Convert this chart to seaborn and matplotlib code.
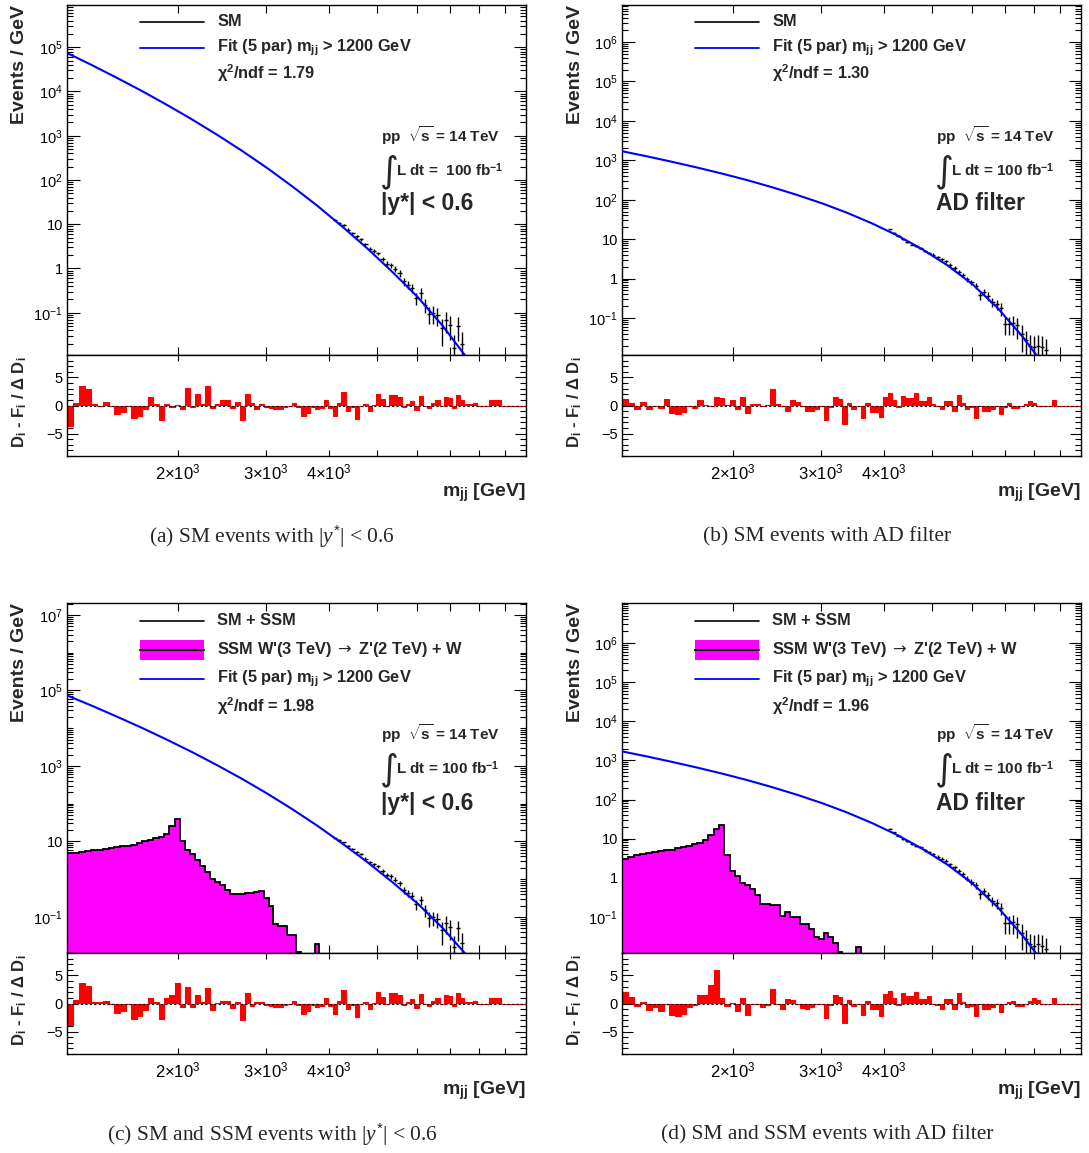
import numpy as np
import matplotlib
matplotlib.use("Agg")
import matplotlib.pyplot as plt
import seaborn as sns
from matplotlib.ticker import FixedLocator, FixedFormatter, NullFormatter, NullLocator
from matplotlib.patches import Rectangle

sns.set_theme(style="ticks")
plt.rcParams["font.family"] = ["Liberation Sans", "DejaVu Sans"]
plt.rcParams["mathtext.fontset"] = "custom"
plt.rcParams["mathtext.rm"] = "Liberation Sans"
plt.rcParams["mathtext.bf"] = "Liberation Sans:bold"
plt.rcParams["mathtext.it"] = "Liberation Serif:italic"
plt.rcParams["mathtext.sf"] = "Liberation Sans"
plt.rcParams["mathtext.cal"] = "DejaVu Sans"

# ---------------- data ----------------
# m_jj bin edges [GeV]
bin_edges = [1200, 1234, 1269, 1305, 1341, 1378, 1416, 1454, 1493, 1533, 1573, 1614, 1656, 1698,
             1741, 1785, 1830, 1875, 1921, 1968, 2016, 2065, 2114, 2164, 2215, 2267, 2320, 2374,
             2429, 2485, 2542, 2600, 2659, 2719, 2780, 2842, 2905, 2969, 3034, 3100, 3167, 3235,
             3305, 3376, 3448, 3521, 3596, 3672, 3749, 3827, 3907, 3988, 4070, 4154, 4239, 4326,
             4414, 4504, 4595, 4688, 4782, 4878, 4975, 5074, 5175, 5277, 5381, 5487, 5595, 5705,
             5817, 5931, 6047, 6165, 6285, 6407, 6531, 6658, 6787, 6918, 7052, 7188, 7326, 7467,
             7610, 7756, 7904, 8055, 8208, 8364, 8523, 8685, 8850, 9019, 9191, 9366, 9544, 9726, 9911]

# fit curves (Events/GeV)
fit_mass = [1200, 1346, 1510, 1695, 1902, 2134, 2394, 2686, 3014, 3381, 3795, 4257, 4777, 5360,
            6014, 6748, 7571, 8495]
fit_val_a = [7.41e4, 3.94e4, 2.03e4, 1.02e4, 4.95e3, 2.33e3, 1.05e3, 454, 186, 72.0, 26.2, 8.86,
             2.84, 0.837, 0.230, 0.0516, 0.00917, 0.0013]
fit_val_b = [1.70e3, 1259, 916, 656, 459, 314, 207, 132, 80.7, 46.5, 24.9, 12.4, 5.52, 2.17,
             0.719, 0.181, 0.0340, 0.00481]

# SM pseudo-data: values for consecutive bins starting at a given bin index
sm_first_a = 52
sm_val_a = [12.5, 10.8, 9.4, 7.6, 6.2, 5.3, 4.6, 3.5, 2.8, 2.5, 2.2, 1.66, 1.28, 1.19, 0.98, 0.79,
            0.51, 0.43, 0.36, 0.216, 0.28, 0.152, 0.095, 0.098, 0.090, 0.045, 0.069, 0.054, 0.016,
            0.051, 0.020]
sm_relerr_a = [0.04, 0.045, 0.05, 0.055, 0.06, 0.065, 0.07, 0.08, 0.09, 0.1, 0.1, 0.12, 0.13, 0.14,
               0.15, 0.17, 0.2, 0.22, 0.24, 0.3, 0.27, 0.35, 0.42, 0.42, 0.45, 0.6, 0.5, 0.55, 0.95,
               0.55, 0.85]
sm_first_b = 52
sm_val_b = [17.7, 14.5, 12.0, 9.8, 8.5, 7.3, 6.6, 6.0, 5.0, 4.5, 4.05, 3.5, 3.1, 2.73, 2.2, 1.84,
            1.5, 1.24, 0.96, 0.8, 0.65, 0.38, 0.45, 0.36, 0.257, 0.224, 0.174, 0.072, 0.072, 0.075,
            0.065, 0.04, 0.027, 0.020, 0.018, 0.02, 0.018, 0.015]
sm_relerr_b = [0.03, 0.035, 0.04, 0.045, 0.05, 0.05, 0.055, 0.06, 0.065, 0.07, 0.075, 0.08, 0.085,
               0.09, 0.1, 0.11, 0.12, 0.13, 0.15, 0.16, 0.18, 0.23, 0.21, 0.24, 0.28, 0.3, 0.34, 0.5,
               0.5, 0.5, 0.55, 0.65, 0.75, 0.85, 0.9, 0.85, 0.9, 0.95]

# SSM signal (Events/GeV) per bin
ssm_c = [4.9, 5.1, 5.4, 5.6, 5.9, 6.1, 6.5, 6.8, 7.1, 7.4, 7.8, 8.3, 9.3, 10, 11, 12, 13, 15.6, 25,
         40, 10, 6, 4.6, 3.3, 2.2, 1.55, 1.0, 0.85, 0.72, 0.53, 0.4, 0.4, 0.4, 0.44, 0.44, 0.45, 0.5,
         0.31, 0.2, 0.064, 0.058, 0.058, 0.034, 0.034, 0.012, 0, 0, 0, 0.019] + [0] * 49
ssm_d = [3.1, 3.4, 3.9, 4.1, 4.4, 4.6, 4.8, 5.0, 5.2, 5.8, 6.2, 6.5, 7.5, 7.9, 9.0, 12.6, 18, 22,
         3.9, 1.47, 1.1, 0.75, 0.67, 0.53, 0.36, 0.22, 0.21, 0.2, 0.2, 0.105, 0.133, 0.1, 0.1,
         0.067, 0.067, 0.05, 0.031, 0.028, 0.04, 0.031, 0.021, 0.013, 0, 0, 0, 0.017] + [0] * 52

# significance residuals (D - F)/dD per bin
resid_a = [-3.6, 0.5, 3.5, 2.9, 0.2, 0.0, 0.6, 0.0, -1.5, -1.1, -0.1, -2.3, -1.9, -0.7, 1.5, 0.3,
           -2.6, 0.3, -0.3, 0.1, -0.6, 3.2, -0.3, 2.1, 0.3, 3.4, -0.5, 0.3, 0.9, 0.9, -0.5, 0.6,
           -2.6, 2.1, 0.5, -0.6, 0.2, -0.2, -0.4, -0.7, -0.7, -0.3,
           0.0, 0.5, -0.3, -1.8, -1.4, -0.2, -0.7, -0.4, 1.0, -0.5, -1.8, 0.5, 2.4, -1.0, -0.3,
           -2.4, 0.0, 0.2, -1.0, 0.1, 2.0, 1.2, 0.0, 1.8, 1.8, 1.5, -0.2, 0.3, 0.8, -0.8, 1.7,
           -0.1, -0.5, 0.4, 1.0, 0.0, 1.5, 1.4, -0.4, 1.9, 0.9, 0.2, 0.2, 0.5,
           0.0, 0.0, 0.0, 0.9, 0.9, 0.9, 0, 0, 0, 0, 0, 0]
resid_c = [-3.9, 0.6, 3.6, 3.1, 0.3, 0.2, 0.5, 0.0, -1.7, -1.4, -0.1, -2.8, -2.3, -1.2, 1.0, 0.2,
           -2.7, 0.9, 1.5, 3.6, -0.6, 2.9, -0.6, 1.5, 0.2, 2.7, -1.1, 0.1, 0.4, 0.4, -0.8, 0.3,
           -2.9, 1.9, -0.5, 0.3] + resid_a[36:]
resid_b = [1.1, 0.5, -0.6, 0.6, -0.6, 0.0, -0.5, 1.1, -1.3, -1.6, -1.2, -0.1, -0.5, 0.9, 0.1, -0.1,
           1.5, 1.4, 0.1, 1.0, -0.6, 1.6, -1.4, 0.3, 0.3, -0.1, 0.1, 3.0, 0.3, 0.0, -0.9, 0.9, 0.6,
           0.0, -0.9, -1.0, -0.6, 0.0, -2.6, -0.2, 1.5, 1.2, -3.3,
           0.4, -0.6, 0.0, -2.2, 0.4, -1.1, -1.1, -2.1, 1.5, 2.2, 1.0, -0.3, 1.7, 1.3, 1.4, 2.2,
           0.8, 0.8, 1.5, 0.2, 0.0, -0.7, 0.8, 0.8, -0.9, 1.9, 0.5, -0.6, -0.3, -2.3, -0.1, -1.0,
           -0.9, -0.7, -0.1, -1.6, -0.3, 0.4, -0.5, -0.5, -0.1, 0.3, 0.8, 0.5, 0.0,
           0.0, 0.0, 0.0, 0.9, 0, 0, 0, 0, 0, 0]
resid_d = [2.1, 1.1, -0.5, 0.3, -1.1, -0.6, -1.3, 0.0, -2.1, -2.3, -1.8, -0.7, -0.2, 1.5, 1.6, 3.3,
           6.0, 1.0, -0.5, 0.1, -1.3, 1.0, -2.0, 0.0, -0.1, -0.6, -0.3, 2.6, -0.1, -1.0, 0.8, 0.6,
           0.0, -0.8, -1.0, -0.7, 0.0, 0.0, -2.5, -0.2, 1.5, 1.2, -3.4,
           0.6, -0.4, 0.0, -2.1, 0.5, -0.9, -0.9, -2.2, 1.7, 2.2, 1.0, -0.3, 1.8, 1.3, 1.3, 2.1,
           0.8, 0.8, 1.3, 0.0, -0.3, -0.9, 0.8, 0.8, -0.9, 1.8, 0.3, -0.6, -0.4, -2.3, -0.1, -1.0,
           -0.9, -0.7, 0.0, -1.6, -0.1, 0.3, 0.5, -0.5, -0.5, 0.0, 0.5, 0.9, 0.6,
           0.0, 0.0, 0.0, 0.9, 0, 0, 0, 0, 0, 0]

x_tick_vals = [2000, 3000, 4000, 5000, 6000, 7000, 8000, 9000]
x_tick_labels = [r"$\mathregular{2{\times}10^{3}}$", r"$\mathregular{3{\times}10^{3}}$",
                 r"$\mathregular{4{\times}10^{3}}$", "", "", "", "", ""]

captions = [r"(a) SM events with |$y^{*}$| < 0.6", "(b) SM events with AD filter",
            r"(c) SM and SSM events with |$y^{*}$| < 0.6", "(d) SM and SSM events with AD filter"]
chi2 = ["1.79", "1.30", "1.98", "1.96"]
selections = ["|y*| < 0.6", "AD filter", "|y*| < 0.6", "AD filter"]
lumi_txt = ["L dt =  100 fb$^{\\mathbf{-1}}$", "L dt = 100 fb$^{\\mathbf{-1}}$",
            "L dt = 100 fb$^{\\mathbf{-1}}$", "L dt = 100 fb$^{\\mathbf{-1}}$"]

# ---------------- layout ----------------
W, H = 1089, 1153
fig = plt.figure(figsize=(W / 100, H / 100), dpi=100)
fig.patch.set_facecolor("white")


def rect(x0, y0, x1, y1):
    return [x0 / W, 1 - y1 / H, (x1 - x0) / W, (y1 - y0) / H]


edges = np.array(bin_edges, dtype=float)
centers = np.sqrt(edges[:-1] * edges[1:])

panels = [
    dict(x0=67, y0=5, ylim=(0.0111, 9.0e5), fit=fit_val_a,
         sm=(sm_first_a, sm_val_a, sm_relerr_a), ssm=None, res=resid_a,
         ymaj=[0.1, 1, 10, 1e2, 1e3, 1e4, 1e5],
         ylab=[r"$\mathregular{10^{-1}}$", "1", "10", r"$\mathregular{10^{2}}$",
               r"$\mathregular{10^{3}}$", r"$\mathregular{10^{4}}$", r"$\mathregular{10^{5}}$"]),
    dict(x0=622, y0=5, ylim=(0.0115, 8.7e6), fit=fit_val_b,
         sm=(sm_first_b, sm_val_b, sm_relerr_b), ssm=None, res=resid_b,
         ymaj=[0.1, 1, 10, 1e2, 1e3, 1e4, 1e5, 1e6],
         ylab=[r"$\mathregular{10^{-1}}$", "1", "10", r"$\mathregular{10^{2}}$",
               r"$\mathregular{10^{3}}$", r"$\mathregular{10^{4}}$", r"$\mathregular{10^{5}}$",
               r"$\mathregular{10^{6}}$"]),
    dict(x0=67, y0=603, ylim=(0.0111, 2.08e7), fit=fit_val_a,
         sm=(sm_first_a, sm_val_a, sm_relerr_a), ssm=ssm_c, res=resid_c,
         ymaj=[0.1, 10, 1e3, 1e5, 1e7],
         ylab=[r"$\mathregular{10^{-1}}$", "10", r"$\mathregular{10^{3}}$",
               r"$\mathregular{10^{5}}$", r"$\mathregular{10^{7}}$"]),
    dict(x0=622, y0=603, ylim=(0.012, 1.05e7), fit=fit_val_b,
         sm=(sm_first_b, sm_val_b, sm_relerr_b), ssm=ssm_d, res=resid_d,
         ymaj=[0.1, 1, 10, 1e2, 1e3, 1e4, 1e5, 1e6],
         ylab=[r"$\mathregular{10^{-1}}$", "1", "10", r"$\mathregular{10^{2}}$",
               r"$\mathregular{10^{3}}$", r"$\mathregular{10^{4}}$", r"$\mathregular{10^{5}}$",
               r"$\mathregular{10^{6}}$"]),
]

TICK_FS = 10.5
LEG_FS = 11.8
for i, p in enumerate(panels):
    x0, y0 = p["x0"], p["y0"]
    x1 = x0 + 459
    ax = fig.add_axes(rect(x0, y0, x1, y0 + 350))
    axr = fig.add_axes(rect(x0, y0 + 350, x1, y0 + 451))

    for a in (ax, axr):
        a.set_facecolor("white")
        a.set_xscale("log")
        a.set_xlim(edges[0], edges[-1])
        a.xaxis.set_major_locator(FixedLocator(x_tick_vals))
        a.xaxis.set_minor_locator(NullLocator())
        for s in a.spines.values():
            s.set_color("black")
            s.set_linewidth(1.0)
        a.tick_params(axis="both", which="both", direction="in", top=True, right=True,
                      colors="black", labelsize=TICK_FS, width=0.8)
    ax.xaxis.set_major_formatter(NullFormatter())
    axr.xaxis.set_major_formatter(FixedFormatter(x_tick_labels))
    axr.tick_params(axis="x", labelsize=12)

    # ---- main panel ----
    ax.set_yscale("log")
    ax.set_ylim(*p["ylim"])
    lo_dec = int(np.floor(np.log10(p["ylim"][0])))
    hi_dec = int(np.ceil(np.log10(p["ylim"][1])))
    minors = [k * 10.0 ** d for d in range(lo_dec, hi_dec + 1) for k in range(1, 10)
              if not (k == 1 and any(np.isclose(10.0 ** d, m) for m in p["ymaj"]))]
    ax.yaxis.set_major_locator(FixedLocator(p["ymaj"]))
    ax.yaxis.set_major_formatter(FixedFormatter(p["ylab"]))
    ax.yaxis.set_minor_locator(FixedLocator(minors))
    ax.yaxis.set_minor_formatter(NullFormatter())
    ax.tick_params(axis="y", which="major", length=9, pad=3)
    ax.tick_params(axis="y", which="minor", length=4.5)
    ax.tick_params(axis="x", which="major", length=5.5)

    if p["ssm"] is not None:
        sv = np.array(p["ssm"], dtype=float)
        sv = np.where(sv > 0, sv, 1e-6)
        ax.stairs(sv, edges, baseline=1e-6, fill=True, color="#ff00ff", zorder=2)
        ax.stairs(sv, edges, baseline=None, color="black", lw=1.3, zorder=3)

    first, vals, rel = p["sm"]
    vals = np.array(vals)
    idx = np.arange(first, first + len(vals))
    xc = centers[idx]
    xerr = [xc - edges[idx], edges[idx + 1] - xc]
    ax.errorbar(xc, vals, xerr=xerr, yerr=vals * np.array(rel), fmt="none",
                ecolor="black", elinewidth=1.0, capsize=0, zorder=4)

    sns.lineplot(x=fit_mass, y=p["fit"], ax=ax, color="#0000ff", lw=1.5, sort=False,
                 estimator=None, zorder=5, legend=False)
    ax.set_xlabel("")
    ax.set_ylabel("")

    # legend-like texts
    tx = 0.327
    lx0, lx1 = 0.159, 0.299
    if p["ssm"] is None:
        rows = [0.952, 0.878, 0.805]
        ax.plot([lx0, lx1], [rows[0]] * 2, transform=ax.transAxes, color="black", lw=1.2)
        ax.text(tx, rows[0], "SM", transform=ax.transAxes, fontsize=LEG_FS, fontweight="bold",
                va="center", ha="left")
        ax.plot([lx0, lx1], [rows[1]] * 2, transform=ax.transAxes, color="#0000ff", lw=1.3)
        ax.text(tx, rows[1], r"Fit (5 par) m$_{\mathbf{jj}}$ > 1200 GeV", transform=ax.transAxes,
                fontsize=LEG_FS, fontweight="bold", va="center", ha="left")
        ax.text(tx, rows[2], r"$\mathbf{\chi^{2}}$/ndf = " + chi2[i], transform=ax.transAxes,
                fontsize=LEG_FS, fontweight="bold", va="center", ha="left")
    else:
        rows = [0.949, 0.866, 0.784, 0.704]
        ax.plot([lx0, lx1], [rows[0]] * 2, transform=ax.transAxes, color="black", lw=1.2)
        ax.text(tx, rows[0], "SM + SSM", transform=ax.transAxes, fontsize=LEG_FS,
                fontweight="bold", va="center", ha="left")
        ax.add_patch(Rectangle((lx0, rows[1] - 0.028), lx1 - lx0, 0.056, transform=ax.transAxes,
                               facecolor="#ff00ff", edgecolor="none"))
        ax.plot([lx0, lx1], [rows[1]] * 2, transform=ax.transAxes, color="black", lw=1.5)
        ax.text(tx, rows[1], r"SSM W'(3 TeV) $\mathcal{\rightarrow}$ Z'(2 TeV) + W",
                transform=ax.transAxes, fontsize=LEG_FS, fontweight="bold", va="center",
                ha="left")
        ax.plot([lx0, lx1], [rows[2]] * 2, transform=ax.transAxes, color="#0000ff", lw=1.3)
        ax.text(tx, rows[2], r"Fit (5 par) m$_{\mathbf{jj}}$ > 1200 GeV", transform=ax.transAxes,
                fontsize=LEG_FS, fontweight="bold", va="center", ha="left")
        ax.text(tx, rows[3], r"$\mathbf{\chi^{2}}$/ndf = " + chi2[i], transform=ax.transAxes,
                fontsize=LEG_FS, fontweight="bold", va="center", ha="left")

    rx = 0.685
    if p["ssm"] is None:
        ry = [0.627, 0.528, 0.434]
    else:
        ry = [0.628, 0.528, 0.427]
    ax.text(rx, ry[0], r"pp  $\sqrt{\mathbf{s}}$ = 14 TeV", transform=ax.transAxes, fontsize=11,
            fontweight="bold", va="center", ha="left")
    ax.text(rx - 0.004, ry[1] - 0.005, "\u222b", transform=ax.transAxes, fontsize=26,
            family=["DejaVu Sans"], va="center", ha="left")
    ax.text(rx + 0.031, ry[1], lumi_txt[i], transform=ax.transAxes, fontsize=11,
            fontweight="bold", va="center", ha="left")
    ax.text(rx, ry[2], selections[i], transform=ax.transAxes, fontsize=16.5,
            fontweight="bold", va="center", ha="left")

    # ---- residual panel ----
    rv = np.array(p["res"], dtype=float)
    axr.stairs(rv, edges, baseline=0, fill=True, color="#ff0000", zorder=2)
    axr.stairs(rv, edges, baseline=0, color="#ff0000", lw=0.8, zorder=2)
    axr.axhline(0, color="black", lw=0.8, ls=(0, (2, 2)), zorder=3)
    axr.set_ylim(-9, 9)
    axr.yaxis.set_major_locator(FixedLocator([-5, 0, 5]))
    axr.yaxis.set_major_formatter(FixedFormatter(["\u22125", "0", "5"]))
    axr.yaxis.set_minor_locator(FixedLocator([v for v in range(-9, 10) if v % 5 != 0]))
    axr.tick_params(axis="y", which="major", length=8, pad=3)
    axr.tick_params(axis="y", which="minor", length=4.5)
    axr.tick_params(axis="x", which="major", length=4, pad=5)
    axr.set_xlabel("")
    axr.set_ylabel("")

    # figure-level axis titles and caption
    fig.text((x0 - 47) / W, 1 - (y0) / H, "Events / GeV", rotation=90, ha="center", va="top",
             fontsize=14, fontweight="bold")
    fig.text((x0 - 47) / W, 1 - (y0 + 397) / H,
             r"D$_{\mathbf{i}}$ - F$_{\mathbf{i}}$ / $\mathbf{\Delta}$ D$_{\mathbf{i}}$",
             rotation=90, ha="center", va="center", fontsize=12, fontweight="bold")
    fig.text(x1 / W, 1 - (y0 + 488) / H, r"m$_{\mathbf{jj}}$ [GeV]", ha="right", va="center",
             fontsize=14, fontweight="bold")
    fig.text((x0 + 205) / W, 1 - (y0 + 532) / H, captions[i], ha="center", va="center",
             fontsize=15.5, family=["Liberation Serif"])

fig.savefig("out.png", dpi=100, facecolor="white")
